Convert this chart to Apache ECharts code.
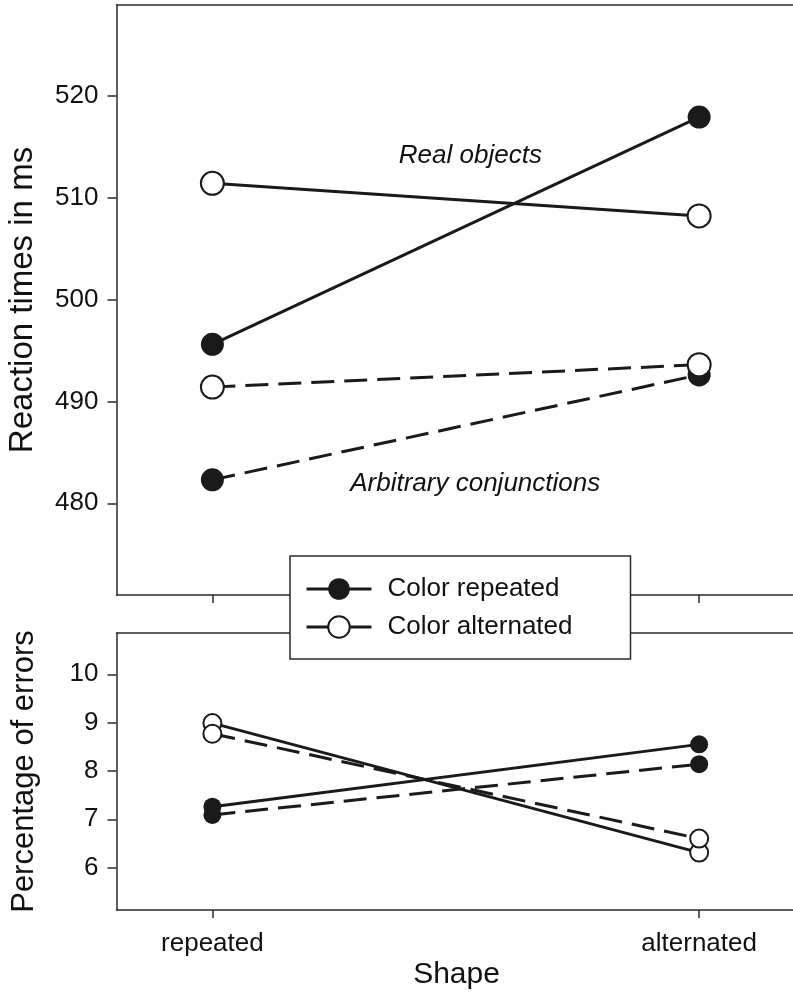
<!DOCTYPE html>
<html>
<head>
<meta charset="utf-8">
<script src="https://cdn.jsdelivr.net/npm/echarts@6/dist/echarts.min.js"></script>
<style>
  html, body { margin: 0; padding: 0; background: #fff; }
  #chart { width: 793px; height: 993px; }
</style>
</head>
<body>
<div id="chart"></div>
<script>
// x levels (Shape)
const shapeLevels = ['repeated', 'alternated'];
const legendNames = ['Color repeated', 'Color alternated'];

// reaction times in ms
const rtRealColorRep = [495.6, 517.9];
const rtRealColorAlt = [511.4, 508.2];
const rtArbColorRep = [482.3, 492.6];
const rtArbColorAlt = [491.4, 493.6];
const rtTicks = [480, 490, 500, 510, 520];

// percentage of errors
const errRealColorRep = [7.26, 8.55];
const errRealColorAlt = [8.99, 6.31];
const errArbColorRep = [7.09, 8.14];
const errArbColorAlt = [8.77, 6.6];
const errTicks = [6, 7, 8, 9, 10];

// in-plot labels (data coords of the top panel)
const notes = [
  { text: 'Real objects', x: 0.53, y: 514.1 },
  { text: 'Arbitrary conjunctions', x: 0.54, y: 481.9 },
];

const font = "'Liberation Sans', Arial, sans-serif";
const ink = '#1a1a1a';
const axisInk = '#2a2a2a';
const xMin = -0.197, xMax = 1.2;

function xAxisCfg(gridIndex, position, withLabels) {
  return {
    type: 'value', gridIndex, position, min: xMin, max: xMax,
    name: withLabels ? 'Shape' : '',
    nameLocation: 'middle', nameGap: 50,
    nameTextStyle: { fontSize: 30, color: '#111', fontFamily: font },
    axisLine: { show: true, onZero: false, lineStyle: { color: axisInk, width: 1.5 } },
    axisTick: {
      show: position === 'bottom', length: 8, customValues: [0, 1],
      lineStyle: { color: axisInk, width: 1.5 },
    },
    axisLabel: {
      show: withLabels, customValues: [0, 1], margin: 21,
      fontSize: 26, color: '#111', fontFamily: font,
      formatter: v => shapeLevels[Math.round(v)],
    },
    splitLine: { show: false },
  };
}

function yAxisCfg(gridIndex, min, max, ticks, name, nameSize) {
  return {
    type: 'value', gridIndex, min, max, name,
    nameLocation: 'middle', nameGap: 77,
    nameTextStyle: { fontSize: nameSize, color: '#111', fontFamily: font },
    axisLine: { show: true, onZero: false, lineStyle: { color: axisInk, width: 1.5 } },
    axisTick: { show: true, length: 9, customValues: ticks, lineStyle: { color: axisInk, width: 1.5 } },
    axisLabel: { customValues: ticks, margin: 18, fontSize: 26, color: '#111', fontFamily: font },
    splitLine: { show: false },
  };
}

function lineSeries(name, axisIdx, values, filled, dashed, size) {
  return {
    name, type: 'line', xAxisIndex: axisIdx.x, yAxisIndex: axisIdx.y,
    data: values.map((v, i) => [i, v]),
    symbol: 'circle', symbolSize: size,
    lineStyle: { color: ink, width: 3, type: dashed ? [23, 10] : 'solid' },
    itemStyle: filled
      ? { color: ink, borderColor: ink, borderWidth: 0 }
      : { color: '#fff', borderColor: ink, borderWidth: 2 },
    emphasis: { disabled: true },
    silent: true,
  };
}

const rtAxes = { x: 0, y: 0 };
const errAxes = { x: 2, y: 1 };

const chart = echarts.init(document.getElementById('chart'), null, { renderer: 'canvas' });
chart.setOption({
  animation: false,
  backgroundColor: '#fff',
  grid: [
    { left: 116.5, top: 5, width: 680, height: 590, outerBoundsMode: 'none' },
    { left: 116.5, top: 633, width: 680, height: 277, outerBoundsMode: 'none' },
  ],
  xAxis: [
    xAxisCfg(0, 'bottom', false),
    xAxisCfg(0, 'top', false),
    xAxisCfg(1, 'bottom', true),
    xAxisCfg(1, 'top', false),
  ],
  yAxis: [
    yAxisCfg(0, 471.0, 528.9, rtTicks, 'Reaction times in ms', 33),
    yAxisCfg(1, 5.122, 10.855, errTicks, 'Percentage of errors', 31),
  ],
  legend: {
    left: 290, top: 556, orient: 'vertical',
    padding: [20, 58, 19, 15],
    itemWidth: 65, itemHeight: 27, itemGap: 12,
    backgroundColor: '#fff', borderColor: axisInk, borderWidth: 1.5,
    selectedMode: false,
    textStyle: { fontSize: 26, color: '#111', fontFamily: font, padding: [0, 0, 0, 11] },
    data: [
      { name: legendNames[0], itemStyle: { color: ink, borderWidth: 0 }, lineStyle: { color: ink, width: 3, type: 'solid' } },
      { name: legendNames[1], itemStyle: { color: '#fff', borderColor: ink, borderWidth: 2 }, lineStyle: { color: ink, width: 3, type: 'solid' } },
    ],
  },
  series: [
    lineSeries(legendNames[0], rtAxes, rtRealColorRep, true, false, 23),
    lineSeries(legendNames[1], rtAxes, rtRealColorAlt, false, false, 23),
    lineSeries(legendNames[0], rtAxes, rtArbColorRep, true, true, 23),
    lineSeries(legendNames[1], rtAxes, rtArbColorAlt, false, true, 23),
    lineSeries(legendNames[0], errAxes, errRealColorRep, true, false, 18),
    lineSeries(legendNames[1], errAxes, errRealColorAlt, false, false, 18),
    lineSeries(legendNames[0], errAxes, errArbColorRep, true, true, 18),
    lineSeries(legendNames[1], errAxes, errArbColorAlt, false, true, 18),
    {
      type: 'scatter', xAxisIndex: 0, yAxisIndex: 0, symbolSize: 0, silent: true,
      itemStyle: { opacity: 1 },
      data: notes.map(n => ({ value: [n.x, n.y], name: n.text })),
      label: {
        show: true, position: 'inside', formatter: '{b}',
        fontSize: 26, fontStyle: 'italic', color: '#111', fontFamily: font,
      },
    },
  ],
});
</script>
</body>
</html>
